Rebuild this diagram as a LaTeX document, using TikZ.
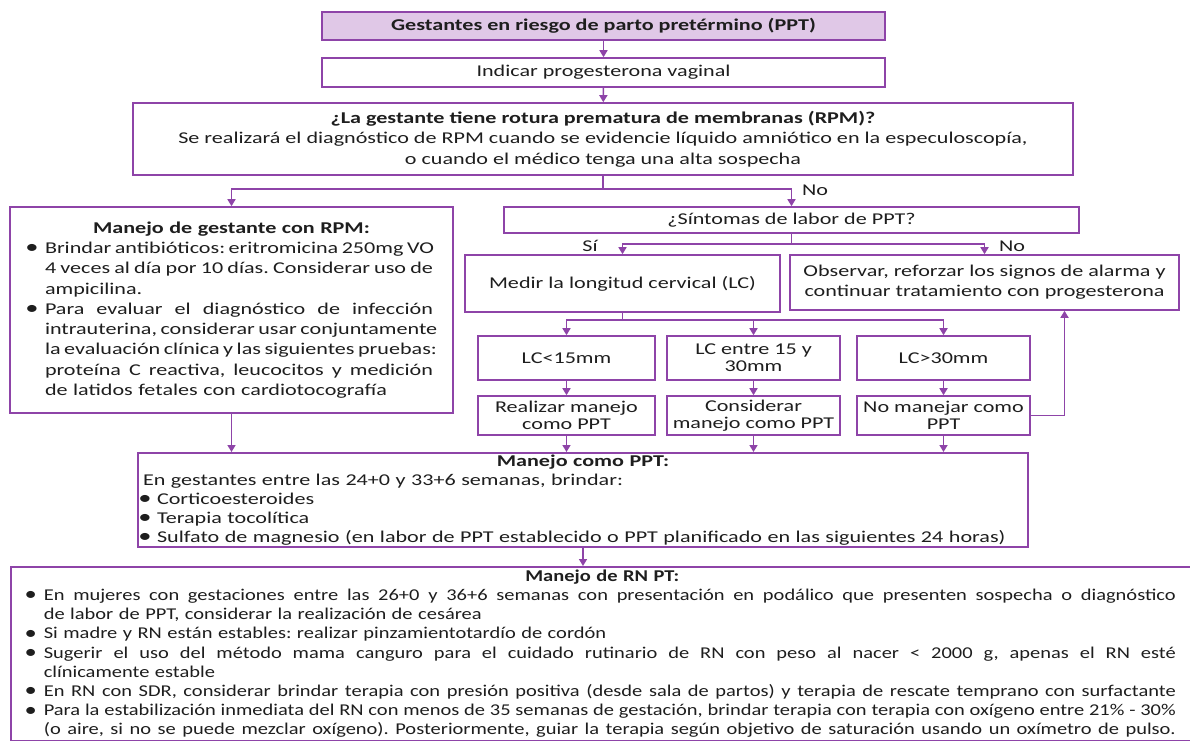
\documentclass[tikz,border=0pt]{standalone}
\usepackage{fontspec}
\setmainfont{Carlito}[FakeStretch=1.34]
\newfontfamily\rnfont{Carlito}[FakeStretch=1.24]
\usepackage{tikz}
\usetikzlibrary{arrows.meta}

\definecolor{lila}{HTML}{8E44A8}
\definecolor{lilafondo}{HTML}{E0C8E7}
\definecolor{tinta}{HTML}{1E1E1E}

% lineas de viñetas
\newlength{\bulw}\setlength{\bulw}{15pt}
\newcommand{\bala}{\makebox[4pt][c]{\raisebox{-0.3pt}{\scalebox{1.2}{\textbullet}}}}
\newcommand{\ajusta}{\spaceskip=.3333em plus .6em minus .12em\relax}
\newcommand{\titulo}[1]{\makebox[\linewidth][c]{\textbf{#1}}}
\newcommand{\bjust}[1]{\makebox[\bulw][l]{\bala}\makebox[\dimexpr\linewidth-\bulw\relax][s]{\ajusta #1}}
\newcommand{\bsigue}[1]{\hspace*{\bulw}\makebox[\dimexpr\linewidth-\bulw\relax][s]{\ajusta #1}}
\newcommand{\bitem}[1]{\makebox[\bulw][l]{\bala}#1}
\newcommand{\bfin}[1]{\hspace*{\bulw}#1}

\begin{document}
\frenchspacing
\begin{tikzpicture}[x=1pt,y=-1pt,>={Triangle[width=8pt,length=7pt]},
  caja/.style={draw=lila,line width=1.6pt,fill=white,text=tinta,inner sep=2pt,font=\fontsize{16.5}{20}\selectfont},
  chica/.style={caja,minimum width=173pt,align=center,font=\fontsize{16.5}{17}\selectfont},
  flecha/.style={->,draw=lila,line width=1.6pt},
  etiq/.style={text=tinta,inner sep=0pt,font=\fontsize{16.5}{20}\selectfont}]
\useasboundingbox (0,0) rectangle (1190,740);
\clip (0,0) rectangle (1190,740);

\node[caja,fill=lilafondo,minimum width=563pt,minimum height=28pt] (inicio) at (603.5,26) {\textbf{Gestantes en riesgo de parto pretérmino (PPT)}};
\node[caja,minimum width=563pt,minimum height=29pt] (proges) at (603.5,72.5) {Indicar progesterona vaginal};
\node[caja,minimum width=940pt,minimum height=72pt,align=center,font=\fontsize{16.5}{20.5}\selectfont] (rpmq) at (603,139) {\textbf{¿La gestante tiene rotura prematura de membranas (RPM)?}\\
Se realizará el diagnóstico de RPM cuando se evidencie líquido amniótico en la especuloscopía,\\
o cuando el médico tenga una alta sospecha};

\node[caja,text width=403pt,inner xsep=20pt,minimum height=206pt,align=left,font=\fontsize{16.5}{20.3}\selectfont] (rpm) at (231.5,310) {\titulo{Manejo de gestante con RPM:}\\
\bjust{Brindar antibióticos: eritromicina 250mg VO}\\
\bsigue{4 veces al día por 10 días. Considerar uso de}\\
\bfin{ampicilina.}\\
\bjust{Para evaluar el diagnóstico de infección}\\
\bsigue{intrauterina, considerar usar conjuntamente}\\
\bsigue{la evaluación clínica y las siguientes pruebas:}\\
\bsigue{proteína C reactiva, leucocitos y medición}\\
\bfin{de latidos fetales con cardiotocografía}};

\node[caja,minimum width=575pt,minimum height=26pt] (sint) at (791.5,220) {¿Síntomas de labor de PPT?};
\node[caja,minimum width=315pt,minimum height=57pt] (medir) at (622.5,283.5) {Medir la longitud cervical (LC)};
\node[caja,minimum width=389pt,minimum height=55pt,align=center] (obs) at (984.5,282.5) {Observar, reforzar los signos de alarma y\\ continuar tratamiento con progesterona};

\node[chica,minimum width=177pt,minimum height=44pt] (lc1) at (566.5,358) {LC<15mm};
\node[chica,minimum height=44pt] (lc2) at (753.5,358) {LC entre 15 y\\ 30mm};
\node[chica,minimum height=44pt] (lc3) at (943.5,358) {LC>30mm};
\node[chica,minimum width=177pt,minimum height=39pt] (mp1) at (566.5,415.5) {Realizar manejo\\ como PPT};
\node[chica,minimum height=39pt] (mp2) at (753.5,415.5) {Considerar\\ manejo como PPT};
\node[chica,minimum height=39pt] (mp3) at (943.5,415.5) {No manejar como\\ PPT};

\node[caja,text width=880pt,inner xsep=5pt,minimum height=94pt,align=left,font=\fontsize{16.5}{19}\selectfont] (ppt) at (583,500) {\titulo{Manejo como PPT:}\\
En gestantes entre las 24+0 y 33+6 semanas, brindar:\\
\makebox[14pt][l]{\bala}Corticoesteroides\\
\makebox[14pt][l]{\bala}Terapia tocolítica\\
\makebox[14pt][l]{\bala}Sulfato de magnesio (en labor de PPT establecido o PPT planificado en las siguientes 24 horas)};

\node[caja,anchor=north west,text width=1147pt,inner xsep=18pt,inner ysep=3pt,align=left,font=\rnfont\fontsize{16.5}{19.2}\selectfont] (rnpt) at (10,566) {\titulo{Manejo de RN PT:}\\
\bjust{En mujeres con gestaciones entre las 26+0 y 36+6 semanas con presentación en podálico que presenten sospecha o diagnóstico}\\
\bfin{de labor de PPT, considerar la realización de cesárea}\\
\bitem{Si madre y RN están estables: realizar pinzamientotardío de cordón}\\
\bjust{Sugerir el uso del método mama canguro para el cuidado rutinario de RN con peso al nacer < 2000 g, apenas el RN esté}\\
\bfin{clínicamente estable}\\
\bjust{En RN con SDR, considerar brindar terapia con presión positiva (desde sala de partos) y terapia de rescate temprano con surfactante}\\
\bjust{Para la estabilización inmediata del RN con menos de 35 semanas de gestación, brindar terapia con terapia con oxígeno entre 21\% - 30\%}\\
\bsigue{(o aire, si no se puede mezclar oxígeno). Posteriormente, guiar la terapia según objetivo de saturación usando un oxímetro de pulso.}};

\node[etiq] (no1) at (815,190) {No};
\node[etiq] (si2) at (590,246) {Sí};
\node[etiq] (no2) at (1012,246) {No};

\draw[flecha] (inicio) -- (proges);
\draw[flecha] (proges) -- (rpmq);
\draw[flecha] (rpmq.south) -- ++(0,13) -| (rpm.north);
\draw[flecha] (rpmq.south) -- ++(0,13) -| (sint.north);
\draw[flecha] (sint.south) -- ++(0,10) -| (medir.north);
\draw[flecha] (sint.south) -- ++(0,10) -| (obs.north);
\draw[flecha] (medir.south) -- ++(0,7) -| (lc1.north);
\draw[flecha] (medir.south) -- ++(0,7) -| (lc2.north);
\draw[flecha] (medir.south) -- ++(0,7) -| (lc3.north);
\draw[flecha] (lc1) -- (mp1);
\draw[flecha] (lc2) -- (mp2);
\draw[flecha] (lc3) -- (mp3);
\draw[flecha] (mp3.east) -| ([xshift=80pt]obs.south);
\draw[flecha] (rpm.south) -- (rpm.south |- ppt.north);
\draw[flecha] (mp1.south) -- (mp1.south |- ppt.north);
\draw[flecha] (mp2.south) -- (mp2.south |- ppt.north);
\draw[flecha] (mp3.south) -- (mp3.south |- ppt.north);
\draw[flecha] (ppt.south) -- (ppt.south |- rnpt.north);
\end{tikzpicture}
\end{document}
